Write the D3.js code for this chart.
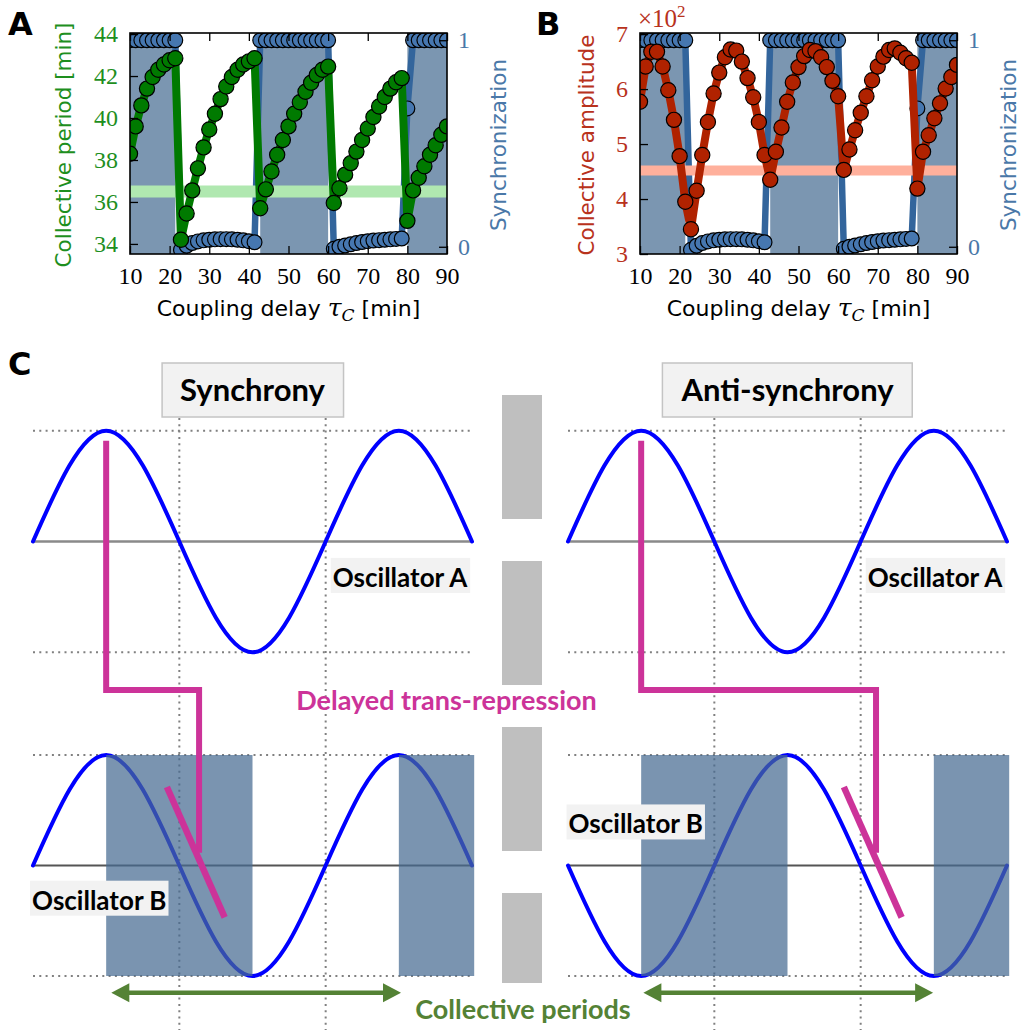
<!DOCTYPE html>
<html>
<head>
<meta charset="utf-8">
<script src="https://cdn.jsdelivr.net/npm/d3@7"></script>
<style>
  body { margin: 0; background: #fff; }
  svg { display: block; }
</style>
</head>
<body>
<script>
// coupling delays (min)
const tau = [10, 11.43, 12.86, 14.29, 15.71, 17.14, 18.57, 20, 21.43, 22.86,
  24.29, 25.71, 27.14, 28.57, 30, 31.43, 32.86, 34.29, 35.71, 37.14,
  38.57, 40, 41.43, 42.86, 44.29, 45.71, 47.14, 48.57, 50, 51.43,
  52.86, 54.29, 55.71, 57.14, 58.57, 60, 61.43, 62.86, 64.29, 65.71,
  67.14, 68.57, 70, 71.43, 72.86, 74.29, 75.71, 77.14, 78.57, 80,
  81.43, 82.86, 84.29, 85.71, 87.14, 88.57, 90];

// collective period (min)
const period = [38.3, 39.6, 40.6, 41.4, 41.95, 42.3, 42.55, 42.75, 42.85, 34.2,
  35.45, 36.55, 37.6, 38.6, 39.45, 40.2, 40.9, 41.5, 41.95, 42.3,
  42.55, 42.7, 42.85, 35.7, 36.6, 37.45, 38.25, 38.95, 39.6, 40.2,
  40.75, 41.25, 41.68, 42.05, 42.3, 42.45, 35.95, 36.65, 37.3, 37.85,
  38.4, 38.95, 39.5, 40.05, 40.55, 41.0, 41.4, 41.7, 41.9, 35.1,
  36.55, 37.15, 37.7, 38.25, 38.7, 39.2, 39.6];

// collective amplitude (x 10^2)
const amplitude = [5.77, 6.41, 6.68, 6.68, 6.41, 5.98, 5.44, 4.78, 3.95, 3.45,
  4.15, 4.8, 5.4, 5.92, 6.3, 6.58, 6.72, 6.7, 6.5, 6.2,
  5.85, 5.4, 4.8, 4.35, 4.86, 5.3, 5.77, 6.12, 6.4, 6.6,
  6.71, 6.69, 6.58, 6.4, 6.15, 5.87, 4.53, 4.9, 5.25, 5.57,
  5.87, 6.16, 6.41, 6.59, 6.71, 6.74, 6.66, 6.56, 6.48, 4.19,
  4.86, 5.16, 5.47, 5.74, 6.01, 6.22, 6.44];

// synchronization index
const sync = [1, 1, 1, 1, 1, 1, 1, 1, 1, -0.015,
  0.005, 0.018, 0.026, 0.031, 0.034, 0.036, 0.037, 0.037, 0.036, 0.034,
  0.031, 0.027, 0.022, 1, 1, 1, 1, 1, 1, 1,
  1, 1, 1, 1, 1, 1, -0.01, 0, 0.006, 0.012,
  0.018, 0.023, 0.027, 0.03, 0.032, 0.034, 0.036, 0.038, 0.04, 0.67,
  1, 1, 1, 1, 1, 1, 1];

const tauTicks = [10, 20, 30, 40, 50, 60, 70, 80, 90];
const periodTicks = [34, 36, 38, 40, 42, 44];
const amplitudeTicks = [3, 4, 5, 6, 7];
const syncTicks = [0, 1];
const periodUncoupled = 36.5;
const amplitudeUncoupled = 4.52;

// schematic in panel C, in quarter periods
const quarters = [0, 1, 2, 3, 4, 5, 6];
const oscA = [0, 1, 0, -1, 0, 1, 0];
const oscBSync = [0, 1, 0, -1, 0, 1, 0];
const oscBAnti = [0, -1, 0, 1, 0, -1, 0];
const shadedSpans = [[1, 3], [5, 6.03]];
const periodArrowSync = [1.07, 5.03];
const periodArrowAnti = [1.03, 4.99];
const repressionHit = [2.27, 4.21];

const svg = d3.select("body").append("svg")
  .attr("width", 1022)
  .attr("height", 1030);

const sans = "DejaVu Sans, sans-serif";
const serif = "Liberation Serif, serif";
const syncColor = "#4a78a8";
const intFmt = d3.format("d");

function drawPanel(cfg) {
  var top = 33, bottom = 254, left = cfg.left, right = cfg.left + 317;

  const x = d3.scaleLinear().domain([10, 90]).range([left, right]);
  const y = d3.scaleLinear().domain(cfg.yDomain).range([bottom, top]);
  const ys = d3.scaleLinear().domain([-0.035, 1.035]).range([bottom, top]);

  const g = svg.append("g");
  g.append("clipPath")
    .attr("id", "clip" + cfg.letter)
    .append("rect")
    .attr("x", left).attr("y", top)
    .attr("width", right - left).attr("height", bottom - top);

  const plot = g.append("g").attr("clip-path", "url(#clip" + cfg.letter + ")");

  const pts = tau.map((t, i) => ({ t: t, v: cfg.values[i], s: sync[i] }));

  // shade synchronized stretches
  const runs = [];
  sync.forEach((s, i) => {
    if (s > 0.5) {
      if (runs.length && runs[runs.length - 1][1] === i - 1) runs[runs.length - 1][1] = i;
      else runs.push([i, i]);
    }
  });
  plot.selectAll(".span")
    .data(runs)
    .join("rect")
    .attr("class", "span")
    .attr("x", (d) => x(tau[d[0]]))
    .attr("width", (d) => x(tau[d[1]]) - x(tau[d[0]]))
    .attr("y", top)
    .attr("height", bottom - top)
    .attr("fill", "#7b96b1");

  plot.append("path")
    .datum(pts)
    .attr("d", d3.line().x((d) => x(d.t)).y((d) => ys(d.s)))
    .attr("fill", "none")
    .attr("stroke", "#33659c")
    .attr("stroke-width", 6.5)
    .attr("stroke-linejoin", "round");

  plot.selectAll(".syncDot")
    .data(pts)
    .join("circle")
    .attr("class", "syncDot")
    .attr("cx", (d) => x(d.t))
    .attr("cy", (d) => ys(d.s))
    .attr("r", 7.4)
    .attr("fill", "#4677b0")
    .attr("stroke", "#000")
    .attr("stroke-width", 1.2);

  // uncoupled reference value
  plot.append("line")
    .attr("x1", left).attr("x2", right)
    .attr("y1", y(cfg.band)).attr("y2", y(cfg.band))
    .attr("stroke", cfg.bandColor)
    .attr("stroke-width", cfg.bandWidth);

  plot.append("path")
    .datum(pts)
    .attr("d", d3.line().x((d) => x(d.t)).y((d) => y(d.v)))
    .attr("fill", "none")
    .attr("stroke", cfg.color)
    .attr("stroke-width", 8)
    .attr("stroke-linejoin", "round");

  plot.selectAll(".dot")
    .data(pts)
    .join("circle")
    .attr("class", "dot")
    .attr("cx", (d) => x(d.t))
    .attr("cy", (d) => y(d.v))
    .attr("r", 7.6)
    .attr("fill", cfg.color)
    .attr("stroke", "#000")
    .attr("stroke-width", 1.2);

  // axes with inward ticks
  const bottomAxis = g.append("g")
    .attr("transform", "translate(0," + bottom + ")")
    .call(d3.axisBottom(x).tickValues(tauTicks).tickFormat(intFmt).tickSize(-8).tickPadding(13));
  g.append("g")
    .attr("transform", "translate(0," + top + ")")
    .call(d3.axisTop(x).tickValues(tauTicks).tickSize(-8).tickFormat(""));
  const leftAxis = g.append("g")
    .attr("transform", "translate(" + left + ",0)")
    .call(d3.axisLeft(y).tickValues(cfg.ticks).tickFormat(intFmt).tickSize(-8).tickPadding(12));
  const rightAxis = g.append("g")
    .attr("transform", "translate(" + right + ",0)")
    .call(d3.axisRight(ys).tickValues(syncTicks).tickFormat(intFmt).tickSize(-8).tickPadding(11));

  g.selectAll(".domain").remove();
  g.selectAll(".tick line").attr("stroke", "#000").attr("stroke-width", 1.3);
  g.selectAll(".tick text")
    .attr("font-family", serif)
    .style("font-family", serif)
    .style("font-size", "24px");
  bottomAxis.selectAll(".tick text").attr("fill", "#000");
  leftAxis.selectAll(".tick text").attr("fill", cfg.labelColor);
  rightAxis.selectAll(".tick text").attr("fill", syncColor);

  g.append("rect")
    .attr("x", left).attr("y", top)
    .attr("width", right - left).attr("height", bottom - top)
    .attr("fill", "none")
    .attr("stroke", "#000")
    .attr("stroke-width", 1.6);

  // axis titles
  const xl = g.append("text")
    .attr("x", (left + right) / 2)
    .attr("y", 316)
    .attr("text-anchor", "middle")
    .style("font-family", sans)
    .style("font-size", "22px")
    .attr("fill", "#000");
  xl.append("tspan").text("Coupling delay ");
  xl.append("tspan").text("\u03c4").style("font-family", "DejaVu Serif, serif").style("font-style", "italic").style("font-size", "25px");
  xl.append("tspan").text("C").attr("dy", 5).style("font-family", "DejaVu Serif, serif").style("font-style", "italic").style("font-size", "17px");
  xl.append("tspan").text(" [min]").attr("dy", -5);

  g.append("text")
    .attr("transform", "translate(" + cfg.labelX + ",145) rotate(-90)")
    .attr("text-anchor", "middle")
    .attr("dy", "0.35em")
    .style("font-family", sans)
    .style("font-size", "21.5px")
    .attr("fill", cfg.labelColor)
    .text(cfg.label);

  g.append("text")
    .attr("transform", "translate(" + (right + 51) + ",145) rotate(-90)")
    .attr("text-anchor", "middle")
    .attr("dy", "0.35em")
    .style("font-family", sans)
    .style("font-size", "21.5px")
    .attr("fill", syncColor)
    .text("Synchronization");

  g.append("text")
    .attr("x", cfg.letterX)
    .attr("y", 35)
    .style("font-family", sans)
    .style("font-weight", "bold")
    .style("font-size", "32px")
    .text(cfg.letter);

  if (cfg.exponent) {
    const ex = g.append("text")
      .attr("x", left - 2)
      .attr("y", 27)
      .style("font-family", serif)
      .style("font-size", "25px")
      .attr("fill", cfg.labelColor);
    ex.append("tspan").text("\u00d710");
    ex.append("tspan").text("2").attr("dy", -10).style("font-size", "17px");
  }
}

drawPanel({
  letter: "A", letterX: 8, left: 130,
  values: period, yDomain: [33.52, 44.05], ticks: periodTicks,
  color: "#007a00", labelColor: "#1e8f1e",
  band: periodUncoupled, bandColor: "#b0e8b0", bandWidth: 12,
  label: "Collective period [min]", labelX: 63
});

drawPanel({
  letter: "B", letterX: 536, left: 640,
  values: amplitude, yDomain: [3, 7.02], ticks: amplitudeTicks,
  color: "#b02200", labelColor: "#b8321c",
  band: amplitudeUncoupled, bandColor: "#ffb09c", bandWidth: 10,
  label: "Collective amplitude", labelX: 586, exponent: true
});

// ---------- panel C ----------
const schem = svg.append("g");
const lato = "Lato, sans-serif";
const yA = d3.scaleLinear().domain([-1, 1]).range([652.3, 430.7]);
const yB = d3.scaleLinear().domain([-1, 1]).range([976, 755]);

schem.append("text")
  .attr("x", 8).attr("y", 375)
  .style("font-family", sans)
  .style("font-weight", "bold")
  .style("font-size", "32px")
  .text("C");

// gray divider between the two cases
schem.append("line")
  .attr("x1", 522).attr("x2", 522)
  .attr("y1", 395).attr("y2", 983)
  .attr("stroke", "#bfbfbf")
  .attr("stroke-width", 40)
  .attr("stroke-dasharray", "124 42");

const columns = [
  { x0: 33, title: "Synchrony", oscB: oscBSync, arrow: periodArrowSync, hit: repressionHit[0], labelB: [-0.04, -0.4] },
  { x0: 568, title: "Anti-synchrony", oscB: oscBAnti, arrow: periodArrowAnti, hit: repressionHit[1], labelB: [-0.02, 0.29] }
];

function boxedLabel(parent, x, baseline, text, size, anchor, padX, boxTop, boxBottom, border) {
  const grp = parent.append("g");
  const t = grp.append("text")
    .attr("x", x).attr("y", baseline)
    .attr("text-anchor", anchor)
    .style("font-family", lato)
    .style("font-weight", "bold")
    .style("font-size", size + "px")
    .attr("fill", "#000")
    .text(text);
  const bb = t.node().getBBox();
  grp.insert("rect", "text")
    .attr("x", bb.x - padX).attr("width", bb.width + 2 * padX)
    .attr("y", baseline - boxTop).attr("height", boxTop + boxBottom)
    .attr("fill", "#f2f2f2")
    .attr("stroke", border ? "#c4c4c4" : "none")
    .attr("stroke-width", 1.5);
}

columns.forEach((c) => {
  const qx = d3.scaleLinear().domain([0, 6]).range([c.x0, c.x0 + 439]);
  const g = schem.append("g");

  // dotted guides
  [yA(1), yA(-1), yB(1), yB(-1)].forEach((yy) => {
    g.append("line")
      .attr("x1", qx(0)).attr("x2", qx(6))
      .attr("y1", yy).attr("y2", yy)
      .attr("stroke", "#808080").attr("stroke-width", 2)
      .attr("stroke-dasharray", "2 4.3");
  });
  [2, 4].forEach((q) => {
    g.append("line")
      .attr("x1", qx(q)).attr("x2", qx(q))
      .attr("y1", 418).attr("y2", 1030)
      .attr("stroke", "#808080").attr("stroke-width", 2)
      .attr("stroke-dasharray", "2 4.3");
  });

  g.append("line")
    .attr("x1", qx(0)).attr("x2", qx(6))
    .attr("y1", yA(0)).attr("y2", yA(0))
    .attr("stroke", "#8a8a8a").attr("stroke-width", 2.5);
  g.append("line")
    .attr("x1", qx(0)).attr("x2", qx(6))
    .attr("y1", yB(0)).attr("y2", yB(0))
    .attr("stroke", "#555").attr("stroke-width", 2);

  const wave = (vals, ys) => d3.line()
    .x((d, i) => qx(quarters[i]))
    .y((d) => ys(d))
    .curve(d3.curveNatural)(vals);

  g.append("path").attr("d", wave(oscA, yA))
    .attr("fill", "none").attr("stroke", "#0000ff").attr("stroke-width", 4).attr("stroke-linecap", "round");
  g.append("path").attr("d", wave(c.oscB, yB))
    .attr("fill", "none").attr("stroke", "#0000ff").attr("stroke-width", 4).attr("stroke-linecap", "round");

  g.selectAll(".shade")
    .data(shadedSpans)
    .join("rect")
    .attr("class", "shade")
    .attr("x", (d) => qx(d[0]))
    .attr("width", (d) => qx(d[1]) - qx(d[0]))
    .attr("y", yB(1))
    .attr("height", yB(-1) - yB(1))
    .attr("fill", "rgb(70,107,146)")
    .attr("fill-opacity", 0.72);

  // delayed trans-repression from A to B
  g.append("path")
    .attr("d", d3.line()([
      [qx(1), yA(0.91)],
      [qx(1), yA(-1.34)],
      [qx(c.hit), yA(-1.34)],
      [qx(c.hit), yB(0.115)]
    ]))
    .attr("fill", "none")
    .attr("stroke", "#cc3399")
    .attr("stroke-width", 6);
  g.append("line")
    .attr("x1", qx(c.hit - 0.44)).attr("y1", yB(0.71))
    .attr("x2", qx(c.hit + 0.35)).attr("y2", yB(-0.47))
    .attr("stroke", "#cc3399")
    .attr("stroke-width", 6.5);

  boxedLabel(g, qx(3), 401, c.title, 31, "middle", 18, 38, 16, true);
  boxedLabel(g, qx(4.07) + 2, yA(-0.41), "Oscillator A", 26, "start", 2, 29, 6, false);
  boxedLabel(g, qx(c.labelB[0]) + 2, yB(c.labelB[1]), "Oscillator B", 26, "start", 2, 29, 6, false);

  // collective period arrow
  const ay = 992.7, head = 18, half = 9.5;
  const a0 = qx(c.arrow[0]), a1 = qx(c.arrow[1]);
  g.append("line")
    .attr("x1", a0 + head - 2).attr("x2", a1 - head + 2)
    .attr("y1", ay).attr("y2", ay)
    .attr("stroke", "#548235").attr("stroke-width", 4.5);
  g.append("path")
    .attr("d", d3.line()([[a0, ay], [a0 + head, ay - half], [a0 + head, ay + half]]) + "Z")
    .attr("fill", "#548235");
  g.append("path")
    .attr("d", d3.line()([[a1, ay], [a1 - head, ay - half], [a1 - head, ay + half]]) + "Z")
    .attr("fill", "#548235");
});

schem.append("text")
  .attr("x", 446.5).attr("y", 710)
  .attr("text-anchor", "middle")
  .style("font-family", lato).style("font-weight", "bold").style("font-size", "27px")
  .attr("fill", "#cc3399")
  .text("Delayed trans-repression");

schem.append("text")
  .attr("x", 523).attr("y", 1019)
  .attr("text-anchor", "middle")
  .style("font-family", lato).style("font-weight", "bold").style("font-size", "27px")
  .attr("fill", "#548235")
  .text("Collective periods");
</script>
</body>
</html>
